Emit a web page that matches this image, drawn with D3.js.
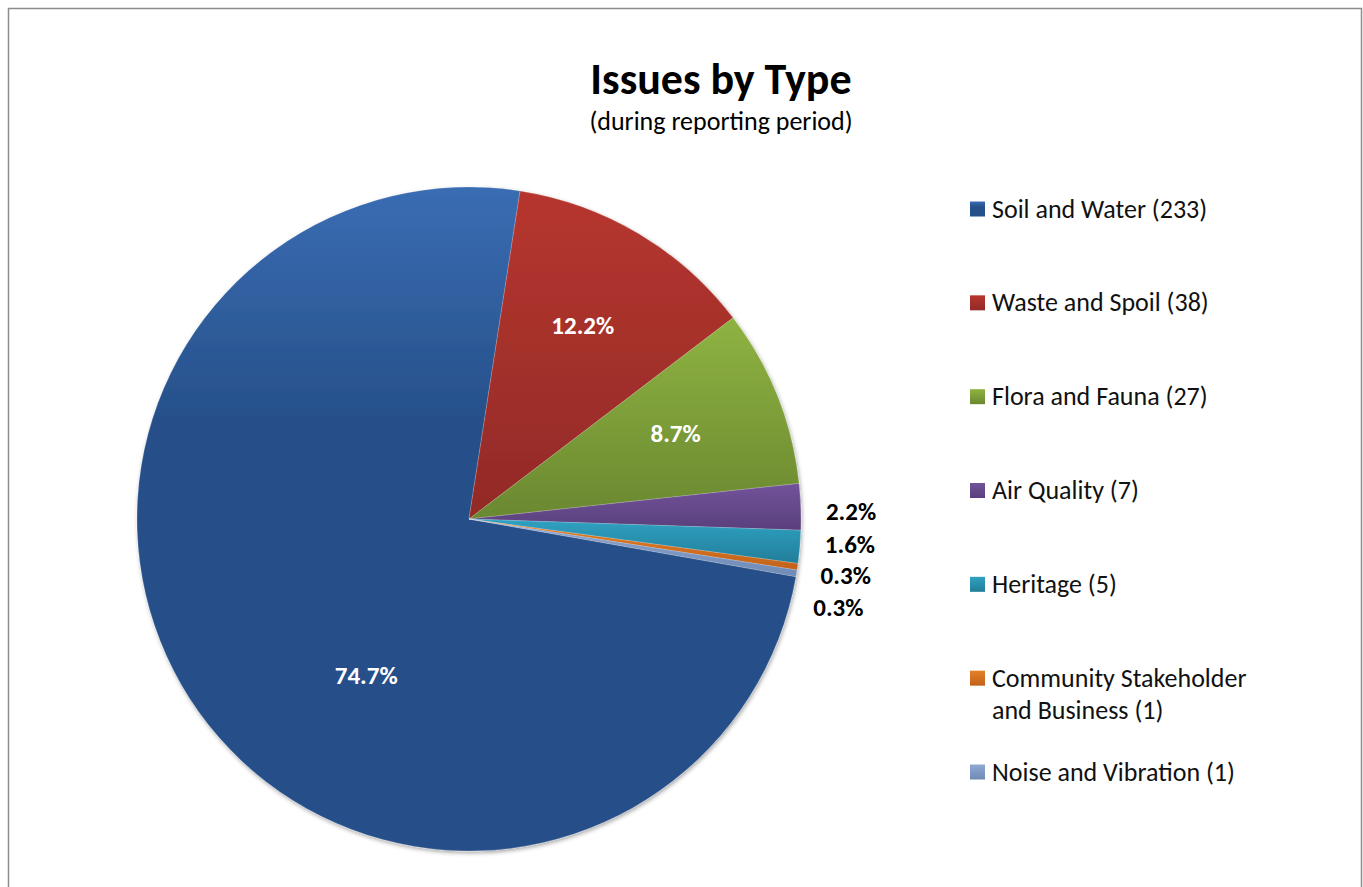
<!DOCTYPE html>
<html>
<head>
<meta charset="utf-8">
<script src="https://cdn.jsdelivr.net/npm/d3@7"></script>
<style>
  body { margin: 0; background: #fff; }
  text { font-family: Calibri, Carlito, "Open Sans", sans-serif; }
</style>
</head>
<body>
<div id="chart"></div>
<script>
const categories = ["Soil and Water", "Waste and Spoil", "Flora and Fauna", "Air Quality",
  "Heritage", "Community Stakeholder and Business", "Noise and Vibration"];
const counts = [233, 38, 27, 7, 5, 1, 1];
const lightColors = ["#3a6db3", "#b6362f", "#8fb342", "#72539b", "#30a1c2", "#e58028", "#8fa9d3"];
const darkColors = ["#26508a", "#922a27", "#6a8830", "#5a3f7c", "#227e99", "#c2621b", "#6e8ab5"];

let width = 1363,
  height = 887,
  cx = 469,
  cy = 519,
  radius = 332,
  firstSliceAngle = 100; // degrees, like Excel's "angle of first slice"

const data = categories.map((c, i) => ({ name: c, value: counts[i], i }));
const total = d3.sum(counts);
const pct = d3.format(".1%");

const svg = d3.select("#chart")
  .append("svg")
  .attr("width", width)
  .attr("height", height)
  .attr("viewBox", [0, 0, width, height]);

// chart frame
svg.append("rect")
  .attr("x", 8.5).attr("y", 8.5)
  .attr("width", 1353).attr("height", 900)
  .attr("fill", "#fff")
  .attr("stroke", "#8c8c8c")
  .attr("stroke-width", 1.5);

const defs = svg.append("defs");

const shadow = defs.append("filter")
  .attr("id", "shadow")
  .attr("x", "-10%").attr("y", "-10%")
  .attr("width", "120%").attr("height", "120%");
shadow.append("feDropShadow")
  .attr("dx", 1).attr("dy", 2)
  .attr("stdDeviation", 2)
  .attr("flood-color", "#000")
  .attr("flood-opacity", 0.35);

data.forEach(d => {
  const g = defs.append("linearGradient")
    .attr("id", "grad" + d.i)
    .attr("x1", 0).attr("y1", 0).attr("x2", 0).attr("y2", 1);
  const mid = d.i === 0 ? 0.35 : 1;
  g.append("stop").attr("offset", 0).attr("stop-color", lightColors[d.i]);
  g.append("stop").attr("offset", mid).attr("stop-color", darkColors[d.i]);
  g.append("stop").attr("offset", 1).attr("stop-color", darkColors[d.i]);
});

// title
svg.append("text")
  .attr("x", 721).attr("y", 94)
  .attr("text-anchor", "middle")
  .attr("font-weight", "bold")
  .attr("font-size", 44)
  .text("Issues by Type");

svg.append("text")
  .attr("x", 721).attr("y", 130)
  .attr("text-anchor", "middle")
  .attr("font-size", 26)
  .text("(during reporting period)");

// pie
const rot = firstSliceAngle * Math.PI / 180;
const pie = d3.pie()
  .sort(null)
  .value(d => d.value)
  .startAngle(rot)
  .endAngle(rot + 2 * Math.PI);

const arcs = pie(data);

const arc = d3.arc().innerRadius(0).outerRadius(radius);

const pieG = svg.append("g")
  .attr("transform", `translate(${cx},${cy})`);

pieG.append("g")
  .attr("filter", "url(#shadow)")
  .selectAll("path")
  .data(arcs)
  .join("path")
  .attr("d", arc)
  .attr("fill", d => `url(#grad${d.data.i})`)
  .attr("stroke", "rgba(255,255,255,0.35)")
  .attr("stroke-width", 0.5);

// labels inside for larger slices
const inside = arcs.filter(d => d.data.value / total > 0.05);
const outside = arcs.filter(d => d.data.value / total <= 0.05);

function polar(angle, r) {
  return [r * Math.sin(angle), -r * Math.cos(angle)];
}

pieG.selectAll(".inlabel")
  .data(inside)
  .join("text")
  .attr("class", "inlabel")
  .attr("transform", d => {
    let p;
    if (d.data.value / total > 0.5) {
      p = polar(d.startAngle + 0.42 * (d.endAngle - d.startAngle), radius * 0.57);
    } else {
      p = polar((d.startAngle + d.endAngle) / 2, radius * 0.67);
    }
    return `translate(${p[0]},${p[1]})`;
  })
  .attr("text-anchor", "middle")
  .attr("dy", "0.23em")
  .attr("fill", "#fff")
  .attr("font-weight", "bold")
  .attr("font-size", 25)
  .text(d => pct(d.data.value / total));

// outside labels stacked down the right edge
let lastY = null;
outside.forEach(d => {
  const mid = (d.startAngle + d.endAngle) / 2;
  const rimY = polar(mid, radius)[1];
  const y = lastY === null ? rimY + 7 : Math.max(rimY, lastY + 31.7);
  lastY = y;
  d.ly = y;
  d.lx = Math.sqrt(Math.max(0, radius * radius - y * y)) + 25;
});

pieG.selectAll(".outlabel")
  .data(outside)
  .join("text")
  .attr("class", "outlabel")
  .attr("x", d => d.lx)
  .attr("y", d => d.ly)
  .attr("dy", "0.23em")
  .attr("fill", "#000")
  .attr("font-weight", "bold")
  .attr("font-size", 25)
  .text(d => pct(d.data.value / total));

// legend
const legendY = d3.scalePoint()
  .domain(categories)
  .range([209, 772]);

const legend = svg.append("g")
  .selectAll("g")
  .data(data)
  .join("g")
  .attr("transform", d => `translate(970,${legendY(d.name)})`);

legend.append("rect")
  .attr("x", 0).attr("y", -7.5)
  .attr("width", 15).attr("height", 15)
  .attr("fill", d => `url(#grad${d.i})`);

legend.append("text")
  .attr("x", 22)
  .attr("y", 8.5)
  .attr("font-size", 26)
  .attr("fill", "#111")
  .each(function(d) {
    const el = d3.select(this);
    const words = `${d.name} (${d.value})`.split(" ");
    let line = [];
    let tspan = el.append("tspan").attr("x", 22);
    words.forEach(w => {
      line.push(w);
      tspan.text(line.join(" "));
      if (tspan.node().getComputedTextLength() > 265 && line.length > 1) {
        line.pop();
        tspan.text(line.join(" "));
        line = [w];
        tspan = el.append("tspan").attr("x", 22).attr("dy", 32).text(w);
      }
    });
  });
</script>
</body>
</html>
